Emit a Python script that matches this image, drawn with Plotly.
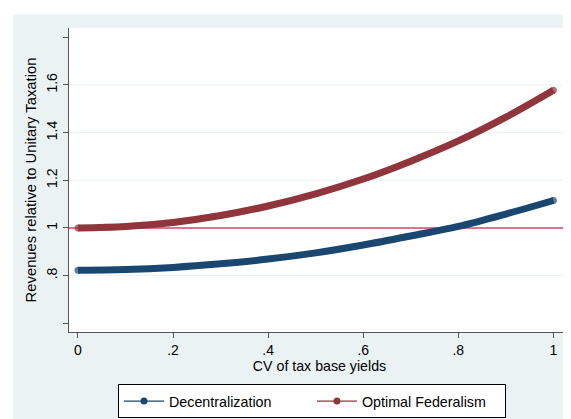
import plotly.graph_objects as go

cv = [0.0, 0.1, 0.2, 0.3, 0.4, 0.5, 0.6, 0.7, 0.8, 0.9, 1.0]
decentralization = [0.822, 0.825, 0.834, 0.849, 0.869, 0.895, 0.928, 0.966, 1.006, 1.058, 1.115]
optimal_federalism = [1.000, 1.006, 1.023, 1.052, 1.092, 1.143, 1.205, 1.280, 1.365, 1.465, 1.578]
series_names = ["Decentralization", "Optimal Federalism"]
x_ticks = [0, 0.2, 0.4, 0.6, 0.8, 1.0]
x_tick_labels = ["0", ".2", ".4", ".6", ".8", "1"]
y_ticks = [0.6, 0.8, 1.0, 1.2, 1.4, 1.6, 1.8]
y_tick_labels = ["", ".8", "1", "1.2", "1.4", "1.6", ""]
y_grid = [0.8, 1.2, 1.4, 1.6]
reference_level = 1.0

BLUE = "#1a476f"
RED = "#90353b"
BG = "#eaf2f3"
FONT = "Liberation Sans, Arial, sans-serif"

fig = go.Figure()

for name, vals, col in [(series_names[0], decentralization, BLUE),
                        (series_names[1], optimal_federalism, RED)]:
    sizes = [7 if i in (0, len(vals) - 1) else 0 for i in range(len(vals))]
    fig.add_trace(go.Scatter(x=cv, y=vals, mode="lines+markers", line=dict(color=col, width=7, shape="spline"),
                             marker=dict(size=sizes, color=col, line=dict(width=0)),
                             showlegend=False, hoverinfo="skip"))

for name, col in [(series_names[0], BLUE), (series_names[1], RED)]:
    fig.add_trace(go.Scatter(x=[None], y=[None], mode="lines+markers", name=name,
                             line=dict(color=col, width=1.2), marker=dict(size=7, color=col)))

for g in y_grid:
    fig.add_shape(type="line", xref="paper", x0=0, x1=1, yref="y", y0=g, y1=g,
                  line=dict(color=BG, width=1), layer="below")

fig.add_hline(y=reference_level, line=dict(color="#d9456a", width=1.5), layer="below")

# white outer border strips
fig.add_shape(type="rect", xref="paper", yref="paper", x0=-0.2, x1=1.1, y0=1.0455, y1=1.2,
              fillcolor="white", line=dict(width=0), layer="above")
fig.add_shape(type="rect", xref="paper", yref="paper", x0=-0.2, x1=-0.1118, y0=-0.4, y1=1.2,
              fillcolor="white", line=dict(width=0), layer="above")
fig.add_shape(type="rect", xref="paper", yref="paper", x0=-0.2, x1=1.1, y0=-0.4, y1=-0.2905,
              fillcolor="white", line=dict(width=0), layer="above")

fig.update_layout(
    width=571, height=419,
    margin=dict(l=61, r=9, t=20, b=91),
    paper_bgcolor=BG, plot_bgcolor="white",
    font=dict(family=FONT, size=14, color="black"),
    legend=dict(orientation="h", x=0.485, xanchor="center", y=-0.172, yanchor="top",
                bgcolor="white", bordercolor="black", borderwidth=1,
                font=dict(size=14.3), itemwidth=40, entrywidth=138, entrywidthmode="pixels"),
    xaxis=dict(range=[-0.0189, 1.0349], tickvals=x_ticks, ticktext=x_tick_labels,
               showgrid=False, zeroline=False, showline=True, linecolor="#555", linewidth=1,
               ticks="outside", ticklen=5, tickcolor="#555", tickfont=dict(size=14),
               title=dict(text="CV of tax base yields", standoff=0, font=dict(size=14.2))),
    yaxis=dict(range=[0.563, 1.839], tickvals=y_ticks, ticktext=y_tick_labels, tickangle=-90,
               showgrid=False, zeroline=False, showline=True, linecolor="#555", linewidth=1,
               ticks="outside", ticklen=5, tickcolor="#555", tickfont=dict(size=14),
               title=dict(text="Revenues relative to Unitary Taxation", standoff=4, font=dict(size=14.8))),
)

fig.write_html("out.html")
